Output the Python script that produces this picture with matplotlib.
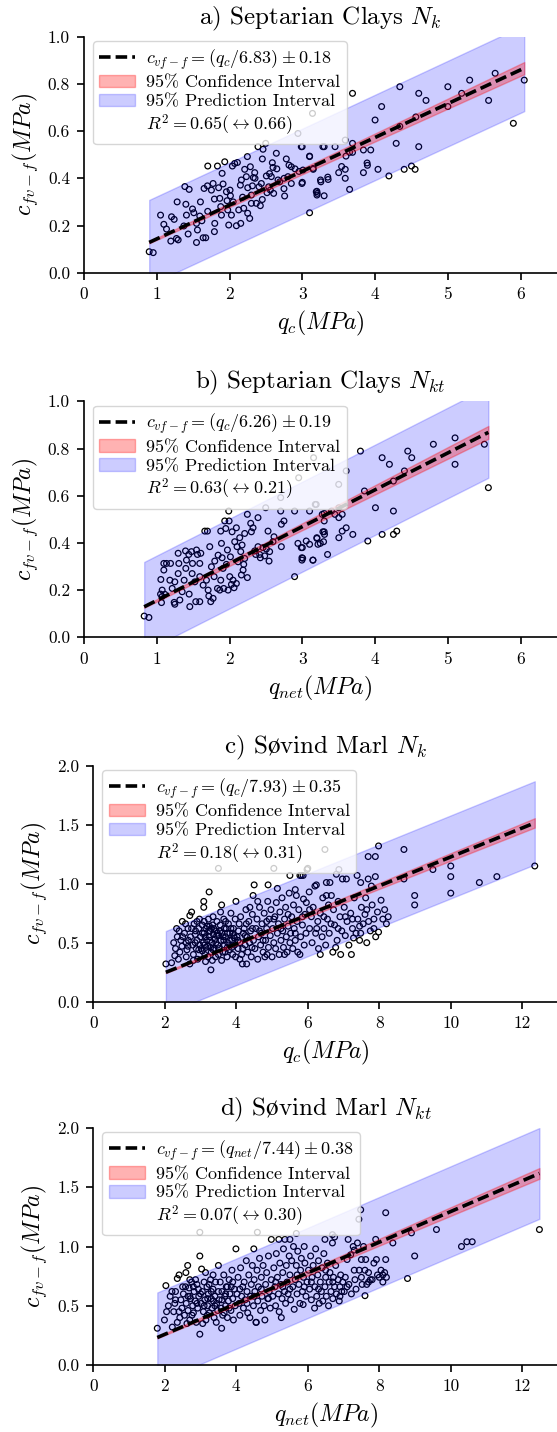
import numpy as np
import matplotlib
matplotlib.use("Agg")
import matplotlib.pyplot as plt
from matplotlib.lines import Line2D
from matplotlib.patches import Patch

plt.rcParams['font.family'] = ['cmr10', 'DejaVu Serif']
plt.rcParams['mathtext.fontset'] = 'cm'
plt.rcParams['axes.formatter.use_mathtext'] = True
plt.rcParams['axes.unicode_minus'] = False

# ---------------- data ----------------
# a) Septarian Clays, qc vs c
a_x = [0.896,0.951,1.052,1.097,1.134,1.203,1.239,1.193,1.271,1.294,1.372,1.408,1.431,1.386,1.445,1.491,1.509,1.546,1.559,1.546,
       1.591,1.637,1.673,1.650,1.696,1.701,1.751,1.774,1.792,1.797,1.792,1.834,1.866,1.879,1.889,1.898,1.911,1.934,1.957,1.966,
       1.975,1.989,2.007,2.012,2.026,2.039,2.071,2.094,2.108,2.126,2.149,2.154,2.163,2.195,2.208,2.231,2.245,2.249,2.277,2.286,
       2.300,2.300,2.314,2.327,2.346,2.368,2.391,2.405,2.423,2.437,2.451,2.460,2.497,2.506,2.515,2.538,2.561,2.574,2.588,2.597,
       2.606,2.643,2.666,2.689,2.748,2.757,2.780,2.803,2.817,2.849,2.849,2.940,2.954,2.986,2.995,3.009,3.100,3.100,3.150,3.192,
       3.201,3.283,2.998,3.000,3.100,3.150,3.200,3.205,3.250,3.255,3.300,3.300,3.350,3.355,3.450,3.500,3.540,3.590,3.590,3.590,
       3.600,3.650,3.690,3.690,3.690,3.650,3.840,3.840,3.890,3.895,3.940,4.000,4.040,4.090,4.190,4.290,4.340,4.340,4.400,4.500,
       4.550,4.560,4.600,4.600,4.700,5.000,5.000,5.190,5.300,5.560,5.650,5.900,6.050,3.140,
       1.600,1.700,1.850,2.050,2.180,2.250,2.350,2.450,2.550,2.650,2.750,2.900,1.280,1.620,1.400]
a_y = [0.089,0.085,0.244,0.205,0.185,0.237,0.226,0.134,0.145,0.139,0.198,0.244,0.164,0.365,0.353,0.270,0.254,0.209,0.181,0.128,
       0.240,0.148,0.148,0.357,0.368,0.452,0.350,0.378,0.312,0.209,0.174,0.452,0.315,0.280,0.244,0.421,0.376,0.470,0.343,0.305,
       0.266,0.202,0.350,0.326,0.244,0.452,0.463,0.199,0.467,0.266,0.371,0.209,0.393,0.273,0.438,0.407,0.492,0.252,0.230,0.449,
       0.329,0.294,0.368,0.403,0.424,0.294,0.534,0.364,0.284,0.378,0.482,0.523,0.548,0.410,0.339,0.364,0.350,0.407,0.466,0.446,
       0.336,0.506,0.393,0.385,0.356,0.325,0.482,0.407,0.456,0.449,0.378,0.590,0.429,0.534,0.378,0.435,0.492,0.254,0.442,0.343,
       0.329,0.534,0.534,0.383,0.494,0.438,0.345,0.336,0.393,0.385,0.534,0.326,0.405,0.395,0.534,0.424,0.450,0.562,0.438,0.400,
       0.494,0.353,0.760,0.548,0.510,0.510,0.520,0.424,0.465,0.455,0.520,0.647,0.438,0.704,0.410,0.548,0.788,0.620,0.438,0.452,
       0.438,0.660,0.760,0.534,0.730,0.788,0.704,0.760,0.816,0.730,0.845,0.633,0.816,0.675,
       0.300,0.260,0.360,0.300,0.320,0.360,0.400,0.310,0.420,0.440,0.400,0.440,0.300,0.220,0.290]

# b) Septarian Clays, qnet vs c
b_x = [0.827,0.892,1.065,1.074,1.052,1.074,1.111,1.056,1.097,1.097,1.134,1.189,1.180,1.212,1.239,1.248,1.248,1.294,1.294,1.303,
       1.317,1.349,1.376,1.395,1.399,1.408,1.440,1.445,1.454,1.477,1.486,1.491,1.523,1.536,1.546,1.559,1.591,1.591,1.591,1.605,
       1.637,1.660,1.696,1.683,1.706,1.715,1.728,1.742,1.751,1.774,1.788,1.797,1.834,1.843,1.866,1.879,1.879,1.889,1.898,1.911,
       1.920,1.934,1.989,1.948,1.957,1.971,1.980,1.994,2.003,2.012,2.026,2.035,2.048,2.062,2.071,2.094,2.094,2.103,2.117,2.140,
       2.154,2.163,2.172,2.186,2.195,2.208,2.208,2.245,2.245,2.291,2.300,2.323,2.346,2.359,2.391,2.391,2.414,2.423,2.460,2.483,
       2.497,2.506,2.529,2.543,2.551,2.597,2.611,2.703,2.703,2.712,2.712,2.748,2.894,2.894,2.940,2.986,2.995,2.995,3.100,3.146,
       3.178,3.201,3.215,3.274,3.283,3.292,3.155,2.950,
       3.000,3.005,3.054,3.100,3.146,3.191,3.200,3.247,3.301,3.301,3.301,3.305,3.347,3.402,3.448,3.502,3.502,3.502,3.548,3.548,
       3.603,3.603,3.694,3.799,3.854,3.900,4.005,4.097,4.097,4.197,4.252,4.252,4.252,4.298,4.403,4.449,4.504,4.801,5.099,5.099,
       5.502,5.557,3.500]
b_y = [0.090,0.084,0.147,0.173,0.183,0.200,0.182,0.245,0.285,0.313,0.313,0.313,0.242,0.207,0.148,0.140,0.235,0.270,0.356,0.313,
       0.158,0.193,0.242,0.366,0.292,0.327,0.351,0.183,0.130,0.363,0.270,0.313,0.235,0.151,0.370,0.351,0.151,0.257,0.313,0.356,
       0.221,0.450,0.450,0.242,0.200,0.175,0.384,0.151,0.299,0.165,0.257,0.323,0.207,0.348,0.200,0.450,0.242,0.398,0.337,0.292,
       0.207,0.493,0.535,0.461,0.309,0.370,0.200,0.493,0.257,0.341,0.224,0.447,0.242,0.210,0.405,0.464,0.228,0.384,0.320,0.422,
       0.363,0.264,0.391,0.285,0.309,0.440,0.334,0.521,0.253,0.483,0.447,0.464,0.366,0.351,0.507,0.384,0.351,0.337,0.380,0.345,
       0.549,0.374,0.450,0.323,0.363,0.405,0.426,0.592,0.535,0.479,0.384,0.493,0.535,0.257,0.398,0.380,0.337,0.327,0.535,0.327,
       0.563,0.419,0.394,0.521,0.447,0.405,0.761,0.676,
       0.380,0.335,0.408,0.394,0.327,0.563,0.422,0.398,0.525,0.493,0.447,0.436,0.351,0.535,0.521,0.549,0.507,0.422,0.521,0.450,
       0.464,0.705,0.436,0.789,0.620,0.408,0.549,0.761,0.436,0.733,0.662,0.535,0.436,0.450,0.705,0.789,0.761,0.818,0.845,0.733,
       0.818,0.634,0.648]

# c) Sovind Marl, qc vs c
c_x = [2.03,2.19,2.28,2.25,2.30,2.35,2.40,2.45,2.49,2.42,2.38,2.48,2.33,
       2.55,2.60,2.62,2.65,2.70,2.72,2.75,2.78,2.80,2.82,2.85,2.88,2.90,2.92,2.95,2.97,2.70,2.58,2.80,2.60,2.90,2.98,2.66,2.86,
       3.00,3.02,3.05,3.08,3.09,3.09,3.10,3.12,3.14,3.15,3.17,3.20,3.22,3.24,3.25,3.27,3.29,3.30,3.32,3.34,3.36,3.38,3.40,3.42,
       3.44,3.46,3.48,3.50,3.50,3.05,3.13,3.18,3.28,3.33,3.37,3.43,3.47,3.21,3.26,3.11,3.35,3.23,
       3.52,3.55,3.57,3.59,3.59,3.60,3.62,3.65,3.67,3.70,3.72,3.74,3.76,3.78,3.80,3.82,3.85,3.87,3.90,3.92,3.95,3.97,3.99,3.56,
       3.63,3.69,3.75,3.81,3.88,3.93,3.98,3.66,
       4.02,4.05,4.08,4.10,4.12,4.15,4.17,4.20,4.22,4.25,4.27,4.29,4.30,4.32,4.35,4.37,4.40,4.42,4.45,4.47,4.48,4.50,4.10,4.18,
       4.28,4.38,4.44,4.06,
       4.52,4.55,4.58,4.60,4.62,4.65,4.68,4.70,4.72,4.75,4.78,4.80,4.82,4.85,4.88,4.89,4.90,4.92,4.95,4.97,5.00,4.60,4.75,4.86,
       5.02,5.05,5.05,5.08,5.10,5.12,5.15,5.18,5.20,5.22,5.25,5.28,5.30,5.32,5.35,5.38,5.40,5.42,5.45,5.48,5.50,5.50,5.15,5.35,
       5.52,5.55,5.58,5.60,5.62,5.65,5.68,5.70,5.72,5.75,5.78,5.80,5.82,5.85,5.87,5.88,5.90,5.92,5.95,5.98,6.00,5.65,5.78,5.96,
       6.04,6.05,6.10,6.12,6.15,6.20,6.22,6.24,6.28,6.30,6.35,6.40,6.42,6.45,6.50,6.52,6.52,6.55,6.60,6.62,6.66,6.70,6.72,6.75,
       6.80,6.82,6.85,6.87,6.90,6.92,6.95,6.97,6.35,6.58,6.78,
       7.02,7.05,7.08,7.10,7.15,7.20,7.25,7.28,7.30,7.35,7.38,7.40,7.45,7.48,7.48,7.50,7.55,7.60,7.65,7.69,7.69,7.70,7.75,7.78,
       7.80,7.85,7.89,7.89,7.90,7.95,7.98,7.98,7.22,7.62,
       8.05,8.10,8.15,8.20,8.25,8.69,8.69,8.99,8.99,9.50,10.00,10.00,10.00,10.80,11.29,12.35,6.48,
       2.50,2.65,2.75,2.85,2.95,3.05,3.15,3.25,3.35,3.45,3.55,3.65,3.75,3.85,3.95,3.10,3.30,3.50,3.70,3.90,
       4.05,4.25,4.45,4.65,4.85,5.05,5.25,5.45,5.65,5.85,6.05,6.25,6.45,6.65,6.85,7.05,7.25,7.45,7.65,7.85]
c_y = [0.32,0.33,0.39,0.50,0.45,0.55,0.60,0.52,0.68,0.42,0.36,0.47,0.62,
       0.58,0.50,0.44,0.62,0.32,0.55,0.76,0.48,0.40,0.66,0.57,0.45,0.52,0.36,0.62,0.70,0.73,0.66,0.35,0.38,0.68,0.48,0.52,0.60,
       0.55,0.45,0.65,0.50,0.85,0.80,0.58,0.40,0.34,0.62,0.52,0.47,0.70,0.93,0.55,0.60,0.27,0.42,0.50,0.65,0.57,0.45,0.53,0.38,
       0.60,0.68,0.48,1.13,0.56,0.43,0.55,0.64,0.46,0.35,0.62,0.50,0.58,0.38,0.52,0.48,0.72,0.60,
       0.45,0.65,0.52,0.82,0.35,0.58,0.42,0.70,0.48,0.55,0.62,0.38,0.50,0.66,0.44,0.58,0.75,0.52,0.40,0.62,0.48,0.70,0.85,0.76,
       0.55,0.42,0.58,0.52,0.46,0.56,0.38,0.62,
       0.55,0.45,0.66,0.50,0.72,0.40,0.32,0.58,0.62,0.48,0.78,0.32,0.55,0.42,0.68,0.50,0.60,0.38,0.74,0.90,0.52,0.99,0.36,0.45,
       0.66,0.80,0.46,0.60,
       0.45,0.62,0.70,0.36,0.55,0.80,0.48,0.58,0.66,0.42,0.75,0.38,0.52,0.62,0.85,0.99,0.46,0.70,0.56,0.78,0.38,0.85,0.52,0.40,
       0.62,1.13,0.50,0.72,0.45,0.84,0.58,0.66,0.40,0.76,0.52,0.88,0.60,0.46,0.70,0.80,0.55,0.42,0.64,0.92,1.07,0.50,0.96,0.40,
       0.58,0.72,0.45,0.82,0.62,0.52,0.90,0.68,0.42,0.78,1.07,0.55,1.07,0.65,1.07,0.87,0.48,0.74,0.58,1.12,1.13,0.95,0.40,0.84,
       0.93,0.62,0.72,0.50,0.80,0.98,0.58,0.99,0.68,0.45,0.75,0.55,0.88,0.62,0.48,1.01,0.90,0.70,0.58,1.01,0.90,0.42,0.78,0.65,
       1.08,0.52,0.85,1.12,0.72,0.40,0.60,1.04,0.40,0.82,0.46,
       0.80,0.56,1.04,0.68,0.48,0.75,0.62,0.54,0.88,0.58,1.07,0.70,0.52,1.01,0.58,0.80,0.66,0.74,0.50,1.04,1.23,0.68,0.60,0.98,
       0.82,0.70,1.23,1.06,0.55,0.76,1.32,0.59,0.40,0.88,
       0.86,0.70,0.78,0.66,0.72,1.29,1.04,0.90,0.82,1.12,1.15,1.06,0.92,1.01,1.06,1.15,1.29,
       0.55,0.47,0.62,0.50,0.44,0.58,0.46,0.64,0.44,0.56,0.60,0.52,0.46,0.62,0.54,0.68,0.62,0.40,0.68,0.58,
       0.52,0.56,0.62,0.60,0.68,0.70,0.62,0.74,0.58,0.72,0.78,0.62,0.72,0.66,0.62,0.72,0.70,0.64,0.78,0.62]

# d) Sovind Marl, qnet vs c
d_x = [1.79,1.99,2.03,2.10,2.15,2.21,2.25,2.30,2.35,2.40,2.42,2.45,2.48,2.20,2.35,2.05,2.28,
       2.52,2.55,2.59,2.60,2.64,2.65,2.68,2.70,2.72,2.75,2.78,2.80,2.82,2.85,2.88,2.90,2.92,2.95,2.98,2.98,2.98,2.58,2.70,2.86,
       2.62,2.76,2.94,
       3.02,3.03,3.05,3.08,3.10,3.12,3.15,3.18,3.20,3.22,3.25,3.28,3.30,3.32,3.35,3.38,3.40,3.42,3.45,3.48,3.50,3.50,3.06,3.14,
       3.24,3.36,3.44,3.19,
       3.52,3.55,3.58,3.59,3.60,3.62,3.65,3.68,3.70,3.72,3.75,3.78,3.80,3.82,3.85,3.88,3.90,3.92,3.95,3.97,3.99,3.66,3.86,
       4.02,4.05,4.08,4.10,4.12,4.15,4.18,4.20,4.22,4.25,4.28,4.30,4.32,4.35,4.38,4.40,4.42,4.45,4.48,4.49,4.50,4.52,4.55,4.56,
       4.58,4.59,4.60,4.62,4.65,4.68,4.70,4.72,4.75,4.78,4.80,4.82,4.85,4.88,4.90,4.92,4.95,4.98,4.98,
       5.02,5.05,5.08,5.10,5.12,5.15,5.18,5.19,5.20,5.22,5.25,5.26,5.28,5.30,5.32,5.35,5.36,5.38,5.40,5.42,5.45,5.48,5.50,5.50,
       5.52,5.55,5.58,5.60,5.62,5.65,5.68,5.68,5.70,5.72,5.75,5.78,5.80,5.82,5.85,5.87,5.88,5.90,5.92,5.95,5.98,
       6.02,6.05,6.08,6.10,6.12,6.15,6.19,6.20,6.22,6.25,6.28,6.30,6.32,6.35,6.38,6.40,6.42,6.45,6.48,6.48,6.50,6.52,6.55,6.58,
       6.60,6.62,6.65,6.69,6.69,6.70,6.72,6.75,6.75,6.78,6.80,6.85,6.88,6.90,6.92,6.95,6.98,
       7.02,7.05,7.10,7.13,7.15,7.20,7.22,7.27,7.30,7.32,7.35,7.39,7.43,7.44,7.48,7.50,7.52,7.56,7.60,7.60,7.62,7.65,7.70,7.75,
       7.80,7.85,7.90,7.92,7.95,8.00,8.05,8.10,8.15,8.18,8.18,8.20,8.38,
       8.79,8.90,8.99,9.60,10.30,10.45,10.60,12.48,
       2.30,2.50,2.65,2.80,2.90,3.00,3.10,3.20,3.30,3.40,3.60,3.70,3.80,3.90,4.10,4.30,4.50,4.70,4.90,5.10,
       5.30,5.50,5.70,5.90,6.10,6.30,6.50,6.70,6.90,7.10,7.30,7.50,7.70,8.10,2.40,2.70,3.35,3.75]
d_y = [0.31,0.38,0.67,0.50,0.58,0.32,0.45,0.62,0.73,0.76,0.40,0.55,0.48,0.62,0.36,0.45,0.52,
       0.60,0.42,0.78,0.52,0.84,0.46,0.65,0.38,0.56,0.70,0.50,0.44,0.62,0.54,0.36,0.68,0.48,0.58,0.26,0.92,1.12,0.66,0.58,0.72,
       0.35,0.42,0.64,
       0.52,0.81,0.62,0.45,0.70,0.55,0.38,0.66,0.50,0.60,0.44,0.72,0.56,0.48,0.64,0.40,0.58,0.70,0.52,0.46,0.84,0.62,0.35,0.78,
       0.68,0.54,0.36,0.42,
       0.55,0.70,0.48,0.31,0.62,0.42,0.76,0.58,0.50,0.66,0.40,0.54,0.72,0.60,0.46,0.80,0.56,0.38,0.64,0.50,0.98,0.44,0.66,
       0.60,0.74,0.52,0.42,0.82,0.58,0.66,0.48,0.70,0.55,0.88,0.62,0.44,0.76,0.40,0.58,0.68,0.84,0.50,0.98,0.72,0.62,0.36,0.36,
       0.80,1.12,0.54,0.66,0.90,0.46,0.74,0.58,0.84,0.50,0.38,0.68,0.78,0.56,0.92,0.62,0.48,1.06,0.72,
       0.58,0.82,0.66,0.50,0.94,0.74,0.60,1.06,0.45,0.86,0.68,0.40,0.56,0.78,0.98,0.62,1.06,0.52,0.84,0.70,0.60,0.92,1.06,0.76,
       0.55,0.88,0.66,1.00,0.47,0.72,1.11,0.84,0.60,0.96,0.68,0.52,0.80,0.90,0.62,0.51,0.74,1.00,0.86,0.58,0.70,
       0.80,0.64,0.92,0.55,0.74,0.84,0.48,0.66,0.98,0.58,0.76,0.88,0.52,0.70,0.62,0.82,0.54,0.94,1.06,0.66,0.74,0.58,0.86,0.50,
       0.70,0.78,0.62,1.10,1.03,0.56,0.74,1.08,0.66,0.84,0.60,0.72,0.54,0.66,0.76,0.62,0.70,
       0.62,0.74,0.89,1.06,0.68,0.93,0.60,1.00,0.97,0.72,0.64,1.03,1.23,0.80,1.31,0.89,0.68,1.00,0.80,0.585,0.89,0.68,0.70,0.72,
       0.72,0.86,1.06,0.89,0.76,0.74,0.80,0.76,0.78,0.89,1.285,0.74,1.03,
       0.73,1.115,0.92,1.143,1.00,1.04,1.04,1.143,
       0.55,0.66,0.58,0.66,0.52,0.60,0.50,0.56,0.62,0.50,0.55,0.60,0.48,0.70,0.64,0.52,0.58,0.64,0.56,0.70,
       0.66,0.64,0.76,0.66,0.70,0.64,0.80,0.70,0.58,0.66,0.80,0.74,0.78,0.70,0.45,0.72,0.76,0.66]

titles = [r"a) Septarian Clays $N_k$", r"b) Septarian Clays $N_{kt}$",
          r"c) S$\mathrm{\o}$vind Marl $N_k$", r"d) S$\mathrm{\o}$vind Marl $N_{kt}$"]
xlabels = [r"$q_c(MPa)$", r"$q_{net}(MPa)$", r"$q_c(MPa)$", r"$q_{net}(MPa)$"]
ylabel = r"$c_{fv-f}(MPa)$"
fit_labels = [r"$c_{vf-f} = (q_c/6.83) \pm 0.18$",
              r"$c_{vf-f} = (q_c/6.26) \pm 0.19$",
              r"$c_{vf-f} = (q_c/7.93) \pm 0.35$",
              r"$c_{vf-f} = (q_{net}/7.44) \pm 0.38$"]
r2_labels = [r"$R^2 = 0.65(\leftrightarrow 0.66)$",
             r"$R^2 = 0.63(\leftrightarrow 0.21)$",
             r"$R^2 = 0.18(\leftrightarrow 0.31)$",
             r"$R^2 = 0.07(\leftrightarrow 0.30)$"]
line_divisor = [6.98, 6.40, 8.15, 7.72]     # slope of plotted line
pi_half = [0.18, 0.19, 0.35, 0.38]           # prediction-interval half width
xlims = [(0, 6.5), (0, 6.5), (0, 13), (0, 13)]
ylims = [(0, 1.0), (0, 1.0), (0, 2.0), (0, 2.0)]
xticks = [np.arange(0, 7, 1), np.arange(0, 7, 1), np.arange(0, 13, 2), np.arange(0, 13, 2)]
yticks = [np.arange(0, 1.01, 0.2), np.arange(0, 1.01, 0.2), np.arange(0, 2.01, 0.5), np.arange(0, 2.01, 0.5)]

datasets = [(a_x, a_y), (b_x, b_y), (c_x, c_y), (d_x, d_y)]

W, H = 557, 1432
boxes = [(84, 272.7, 557, 36.7), (84, 637.3, 557, 401.3),
         (93.3, 1001.7, 558, 765.7), (93.3, 1365, 558, 1128)]

fig = plt.figure(figsize=(W / 100, H / 100), dpi=100)

for i, (xs, ys) in enumerate(datasets):
    l, b, r, t = boxes[i]
    ax = fig.add_axes([l / W, 1 - b / H, (r - l) / W, (b - t) / H])
    x = np.asarray(xs, float)
    y = np.asarray(ys, float)

    ax.scatter(x, y, s=17, facecolors='none', edgecolors='black', linewidths=0.9, zorder=1)

    xx = np.linspace(x.min(), x.max(), 200)
    yy = xx / line_divisor[i]
    sxx = np.sqrt(np.sum(x ** 2))
    pi = pi_half[i] * np.sqrt(1 + xx ** 2 / sxx ** 2)
    ci = pi_half[i] * 0.9 * xx / sxx
    ax.fill_between(xx, yy - pi, yy + pi, color='blue', alpha=0.2, lw=1.0, zorder=2)
    ax.fill_between(xx, yy - ci, yy + ci, color='red', alpha=0.3, lw=1.0, zorder=3)
    ax.plot(xx, yy, color='black', lw=2.6, ls=(0, (3.2, 1.4)), zorder=4)

    ax.set_xlim(*xlims[i])
    ax.set_ylim(*ylims[i])
    ax.set_xticks(xticks[i])
    ax.set_yticks(yticks[i])
    ax.set_xticklabels([f"{v:g}" for v in xticks[i]])
    ax.set_yticklabels([f"{v:.1f}" for v in yticks[i]])
    ax.tick_params(direction='out', length=5, width=1.2, labelsize=12.5, pad=5)
    for s in ['top', 'right']:
        ax.spines[s].set_visible(False)
    for s in ['left', 'bottom']:
        ax.spines[s].set_linewidth(1.2)
    ax.set_title(titles[i], fontsize=18, pad=9)
    ax.set_xlabel(xlabels[i], fontsize=17, labelpad=5)
    ax.set_ylabel(ylabel, fontsize=17, labelpad=6)

    handles = [Line2D([], [], color='black', lw=2.6, ls=(0, (3.2, 1.4))),
               Patch(facecolor=(1, 0, 0, 0.3), edgecolor=(1, 0, 0, 0.3), lw=1.0),
               Patch(facecolor=(0, 0, 1, 0.2), edgecolor=(0, 0, 1, 0.2), lw=1.0),
               Line2D([], [], ls='none')]
    ax.legend(handles, [fit_labels[i], "95% Confidence Interval", "95% Prediction Interval", r2_labels[i]],
              loc='upper left', fontsize=13, framealpha=0.8, handlelength=2.0,
              borderpad=0.35, labelspacing=0.18, handletextpad=0.6, bbox_to_anchor=(0.0, 1.02))

fig.savefig("out.png", dpi=100)
